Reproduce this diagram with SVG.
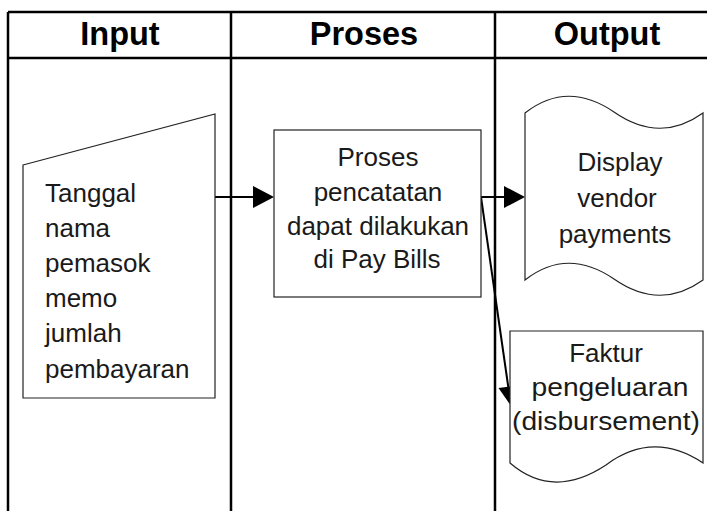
<svg xmlns="http://www.w3.org/2000/svg" width="707" height="511" viewBox="0 0 707 511">
  <defs>
    <style>
      .grid { stroke: #000; stroke-width: 2.5; fill: none; }
      .head { font-family: "Liberation Sans", Arial, sans-serif; font-weight: bold; font-size: 32.5px; fill: #000; text-anchor: middle; }
      .shape { fill: #fff; stroke: #222; stroke-width: 1.2; }
      .label { font-family: "Liberation Sans", Arial, sans-serif; font-size: 26px; fill: #1a1a1a; }
      .mid { text-anchor: middle; }
      .link { stroke: #000; stroke-width: 2; fill: none; }
      .head-arrow { fill: #000; stroke: none; }
    </style>
  </defs>

  <rect width="707" height="511" fill="#fff"/>

  <!-- swimlane table -->
  <g id="table">
    <line class="grid" x1="8" y1="12" x2="720" y2="12"/>
    <line class="grid" x1="8" y1="58" x2="720" y2="58"/>
    <line class="grid" x1="8" y1="12" x2="8" y2="520"/>
    <line class="grid" x1="231" y1="12" x2="231" y2="520"/>
    <line class="grid" x1="495" y1="12" x2="495" y2="520"/>
    <text class="head" x="120" y="45">Input</text>
    <text class="head" x="364" y="45">Proses</text>
    <text class="head" x="607" y="45">Output</text>
  </g>

  <!-- connectors -->
  <g id="connectors">
    <line class="link" x1="215" y1="197" x2="256" y2="197"/>
    <polygon class="head-arrow" points="274,197 253,186 253,208"/>
    <line class="link" x1="481" y1="197" x2="507" y2="197"/>
    <polygon class="head-arrow" points="525,197 504,186 504,208"/>
    <line class="link" x1="481" y1="197" x2="509" y2="392"/>
    <polygon class="head-arrow" points="512.5,408 498.5,388 520,385"/>
  </g>

  <!-- manual input: transaction data -->
  <g id="input-data">
    <path class="shape" d="M23,165 L215,114 L215,398 L23,398 Z"/>
    <text class="label" x="45" y="202">Tanggal</text>
    <text class="label" x="45" y="237">nama</text>
    <text class="label" x="45" y="272">pemasok</text>
    <text class="label" x="45" y="307">memo</text>
    <text class="label" x="45" y="342">jumlah</text>
    <text class="label" x="45" y="378">pembayaran</text>
  </g>

  <!-- process step -->
  <g id="process">
    <rect class="shape" x="274" y="130" width="207" height="167"/>
    <text class="label mid" x="378" y="166">Proses</text>
    <text class="label mid" x="378" y="201">pencatatan</text>
    <text class="label mid" x="378" y="235">dapat dilakukan</text>
    <text class="label mid" x="377" y="268">di Pay Bills</text>
  </g>

  <!-- display output -->
  <g id="display-output">
    <path class="shape" d="M525,113 Q567,80 614,112 Q660,144 703,113 L703,280 Q660,311 614,279 Q567,247 525,280 Z"/>
    <text class="label mid" x="620" y="171">Display</text>
    <text class="label mid" x="617" y="207">vendor</text>
    <text class="label mid" x="615" y="243">payments</text>
  </g>

  <!-- document output -->
  <g id="document-output">
    <path class="shape" d="M510,331 L703,331 L703,463 Q653,430 606,465 Q553,500 510,463 Z"/>
    <text class="label mid" x="606" y="362">Faktur</text>
    <text class="label mid" x="610" y="396" textLength="157" lengthAdjust="spacingAndGlyphs">pengeluaran</text>
    <text class="label mid" x="606" y="430" textLength="188" lengthAdjust="spacingAndGlyphs">(disbursement)</text>
  </g>
</svg>
